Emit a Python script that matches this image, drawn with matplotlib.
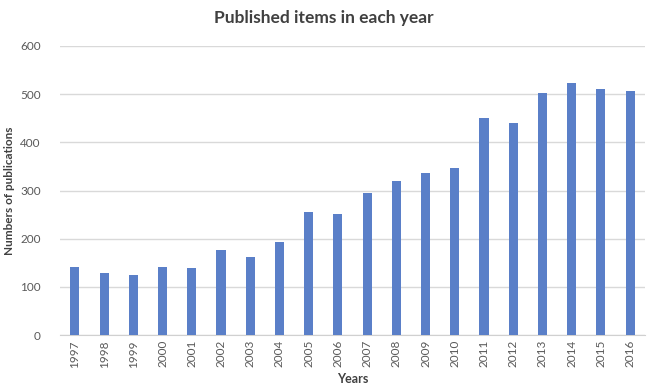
import matplotlib.pyplot as plt

years = [str(y) for y in range(1997, 2017)]
counts = [142, 130, 124, 142, 140, 177, 162, 194, 255, 251,
          294, 320, 336, 347, 450, 439, 503, 522, 510, 506]

plt.rcParams['font.family'] = ['Lato', 'DejaVu Sans']

fig = plt.figure(figsize=(6.48, 3.88), dpi=100)
ax = fig.add_axes([0.093, 0.136, 0.902, 0.746])

x = range(len(years))
ax.bar(x, counts, width=0.31, color='#5a7fc8', zorder=3)

ax.set_xlim(-0.5, len(years) - 0.5)
ax.set_ylim(0, 600)
ax.set_yticks(range(0, 601, 100))
ax.set_xticks(list(x))
ax.set_xticklabels(years, rotation=90)
ax.grid(axis='y', color='#d9d9d9', linewidth=1, zorder=0)
for s in ['top', 'right', 'left']:
    ax.spines[s].set_visible(False)
ax.spines['bottom'].set_color('#d0d0d0')
ax.tick_params(axis='both', length=0, colors='#595959', labelsize=8.5)
ax.tick_params(axis='y', pad=14)

ax.set_ylabel('Numbers of publications', fontsize=8.5, fontweight='bold', color='#404040')
ax.set_xlabel('Years', fontsize=9, fontweight='bold', color='#404040', labelpad=4)
fig.suptitle('Published items in each year', fontsize=12.5, fontweight='bold',
             color='#404040', y=0.975)

fig.savefig('out.png', dpi=100)
